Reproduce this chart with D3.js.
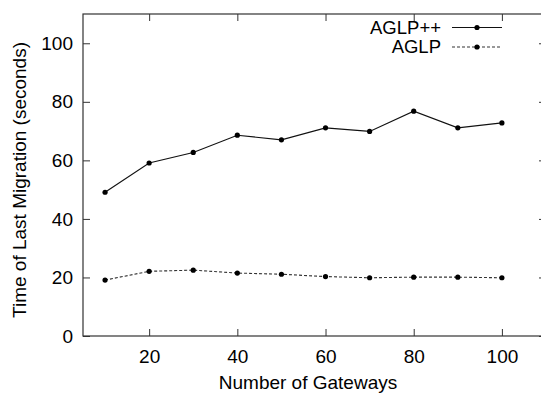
<!DOCTYPE html>
<html>
<head>
<meta charset="utf-8">
<script src="https://cdn.jsdelivr.net/npm/d3@7"></script>
<style>
  html, body { margin: 0; padding: 0; background: #fff; }
  svg { display: block; font-family: "Liberation Sans", Arial, sans-serif; }
</style>
</head>
<body>
<svg id="chart" width="541" height="393"></svg>
<script>
// Gateways count on the x axis
const gateways = [10, 20, 30, 40, 50, 60, 70, 80, 90, 100];
// Time of last migration (seconds)
const aglpPlusPlus = [49.1, 59.1, 62.7, 68.6, 67.0, 71.1, 69.9, 76.8, 71.1, 72.8];
const aglp = [19.1, 22.1, 22.5, 21.5, 21.1, 20.3, 19.9, 20.1, 20.1, 19.9];
const xTicks = [20, 40, 60, 80, 100];
const yTicks = [0, 20, 40, 60, 80, 100];
const seriesNames = ["AGLP++", "AGLP"];

const svg = d3.select("#chart");
const plot = { left: 83, top: 14, right: 546, bottom: 336 };
const fontSize = "19px";

const x = d3.scaleLinear().domain([5, 110]).range([plot.left, plot.right]);
const y = d3.scaleLinear().domain([0, 110]).range([plot.bottom, plot.top]);

const frameColor = "#333";
const tickLen = 7;

// axes with inward ticks on all four sides
const gBottom = svg.append("g").attr("transform", `translate(0,${plot.bottom})`)
  .call(d3.axisBottom(x).tickValues(xTicks).tickSize(-tickLen).tickPadding(14).tickFormat(d3.format("d")));
const gTop = svg.append("g").attr("transform", `translate(0,${plot.top})`)
  .call(d3.axisTop(x).tickValues(xTicks).tickSize(-tickLen).tickFormat(""));
const gLeft = svg.append("g").attr("transform", `translate(${plot.left},0)`)
  .call(d3.axisLeft(y).tickValues(yTicks).tickSize(-tickLen).tickPadding(10).tickFormat(d3.format("d")));
const gRight = svg.append("g").attr("transform", `translate(${plot.right},0)`)
  .call(d3.axisRight(y).tickValues(yTicks).tickSize(-tickLen).tickFormat(""));

[gBottom, gTop, gLeft, gRight].forEach(g => {
  g.select(".domain").remove();
  g.selectAll(".tick line").attr("stroke", frameColor).attr("stroke-width", 1);
  g.selectAll(".tick text").attr("fill", "#000").style("font-size", fontSize);
});

// plot border
svg.append("rect")
  .attr("x", plot.left).attr("y", plot.top)
  .attr("width", plot.right - plot.left).attr("height", plot.bottom - plot.top)
  .attr("fill", "none").attr("stroke", frameColor).attr("stroke-width", 1.2);

// axis titles
svg.append("text")
  .attr("x", 308).attr("y", 389)
  .attr("text-anchor", "middle").style("font-size", fontSize)
  .text("Number of Gateways");
svg.append("text")
  .attr("transform", "translate(19,180) rotate(-90)")
  .attr("dy", "0.35em")
  .attr("text-anchor", "middle").style("font-size", fontSize)
  .text("Time of Last Migration (seconds)");

const series = [
  { name: seriesNames[0], values: aglpPlusPlus, dash: null, color: "#111" },
  { name: seriesNames[1], values: aglp, dash: "3,2", color: "#333" }
];

const line = d3.line().x(d => x(d[0])).y(d => y(d[1]));

series.forEach(s => {
  const pts = gateways.map((g, i) => [g, s.values[i]]);
  svg.append("path")
    .datum(pts)
    .attr("d", line)
    .attr("fill", "none")
    .attr("stroke", s.color)
    .attr("stroke-width", 1.1)
    .attr("stroke-dasharray", s.dash);
  svg.append("g").selectAll("circle")
    .data(pts).enter().append("circle")
    .attr("cx", d => x(d[0])).attr("cy", d => y(d[1]))
    .attr("r", 2.6).attr("fill", "#000");
});

// legend
const legend = svg.append("g");
series.forEach((s, i) => {
  const ly = 27.5 + i * 19.5;
  legend.append("text")
    .attr("x", 441).attr("y", ly).attr("dy", "0.35em")
    .attr("text-anchor", "end").style("font-size", "18.5px")
    .text(s.name);
  legend.append("line")
    .attr("x1", 452).attr("x2", 502).attr("y1", ly).attr("y2", ly)
    .attr("stroke", s.color).attr("stroke-width", 1.1)
    .attr("stroke-dasharray", s.dash);
  legend.append("circle")
    .attr("cx", 477).attr("cy", ly).attr("r", 2.6).attr("fill", "#000");
});
</script>
</body>
</html>
